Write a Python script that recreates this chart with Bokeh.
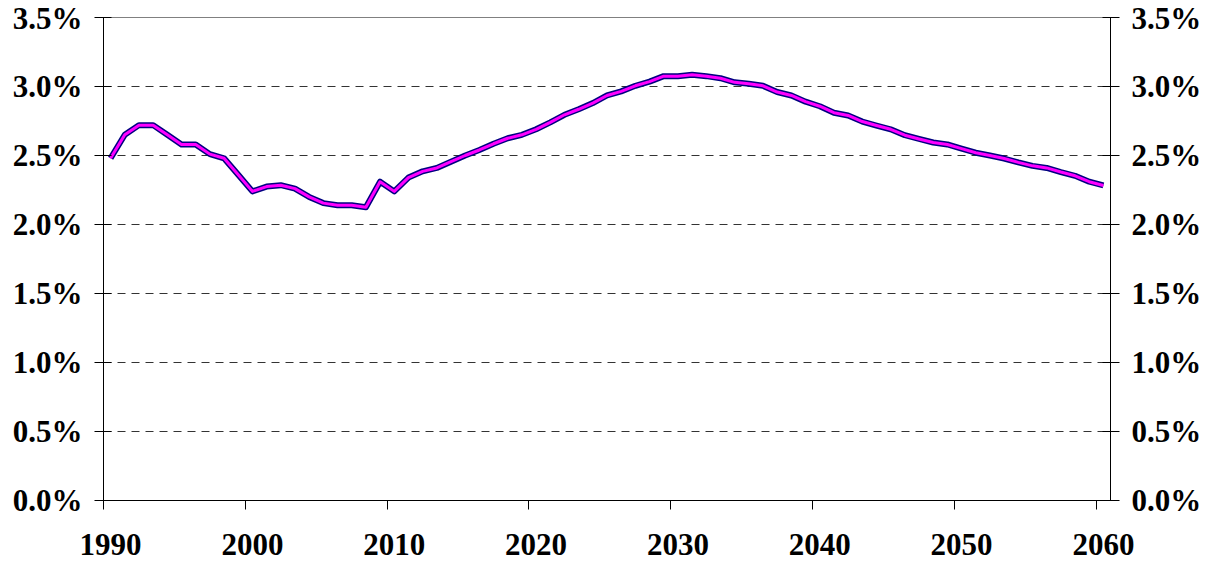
from bokeh.plotting import figure
from bokeh.models import Range1d, LinearAxis, FixedTicker, NumeralTickFormatter, ColumnDataSource
from bokeh.embed import file_html
from bokeh.resources import INLINE

years = list(range(1990, 2061))
share_pct = [
    2.48, 2.65, 2.72, 2.72, 2.65, 2.58, 2.58, 2.51, 2.48, 2.36,
    2.24, 2.275, 2.285, 2.26, 2.20, 2.155, 2.14, 2.14, 2.125, 2.31,
    2.24, 2.34, 2.385, 2.41, 2.455, 2.50, 2.54, 2.585, 2.625, 2.65,
    2.69, 2.74, 2.795, 2.835, 2.88, 2.935, 2.965, 3.005, 3.035, 3.075,
    3.075, 3.085, 3.075, 3.06, 3.03, 3.02, 3.005, 2.96, 2.935, 2.89,
    2.857, 2.81, 2.79, 2.746, 2.717, 2.69, 2.647, 2.62, 2.594, 2.58,
    2.55, 2.52, 2.50, 2.478, 2.45, 2.425, 2.41, 2.38, 2.353, 2.31,
    2.283,
]
y_ticks = [0.0, 0.005, 0.010, 0.015, 0.020, 0.025, 0.030, 0.035]
x_label_years = [1990, 2000, 2010, 2020, 2030, 2040, 2050, 2060]
x_tick_marks = [1989.5, 1999.5, 2009.5, 2019.5, 2029.5, 2039.5, 2049.5, 2059.5]

src = ColumnDataSource(dict(year=years, share=[v / 100.0 for v in share_pct]))

FONT = "Liberation Serif"
FSIZE = "31px"

p = figure(width=1214, height=565, output_backend="svg", toolbar_location=None,
           x_range=Range1d(1989.5, 2060.5), y_range=Range1d(0, 0.035),
           min_border_left=103, min_border_right=104, min_border_top=17, min_border_bottom=65,
           background_fill_color="white", border_fill_color="white")
p.outline_line_color = "#808080"
p.outline_line_width = 1

# x axis
xa = p.xaxis[0]
xa.ticker = FixedTicker(ticks=x_label_years, minor_ticks=x_tick_marks)
xa.major_tick_line_color = None
xa.major_tick_out = 0
xa.major_tick_in = 0
xa.minor_tick_out = 9
xa.minor_tick_in = 0
xa.minor_tick_line_color = "black"
xa.axis_line_color = "black"
xa.major_label_text_font = FONT
xa.major_label_text_font_style = "bold"
xa.major_label_text_font_size = FSIZE
xa.major_label_text_color = "black"
xa.major_label_standoff = 24
p.xgrid.grid_line_color = None

# y axes
def style_y(ax):
    ax.ticker = FixedTicker(ticks=y_ticks)
    ax.formatter = NumeralTickFormatter(format="0.0%")
    ax.major_tick_in = 8
    ax.major_tick_out = 9
    ax.minor_tick_line_color = None
    ax.major_tick_line_color = "black"
    ax.axis_line_color = "black"
    ax.major_label_text_font = FONT
    ax.major_label_text_font_style = "bold"
    ax.major_label_text_font_size = FSIZE
    ax.major_label_text_color = "black"
    ax.major_label_standoff = 12

style_y(p.yaxis[0])
ra = LinearAxis()
style_y(ra)
p.add_layout(ra, "right")

p.ygrid.ticker = FixedTicker(ticks=y_ticks[1:-1])
p.ygrid.grid_line_color = "#333333"
p.ygrid.grid_line_dash = "8 6"
p.ygrid.grid_line_width = 1

p.line("year", "share", source=src, line_color="#000080", line_width=6, line_join="round")
p.line("year", "share", source=src, line_color="#FF00FF", line_width=3, line_join="round")

open("out.html", "w").write(file_html(p, INLINE))
